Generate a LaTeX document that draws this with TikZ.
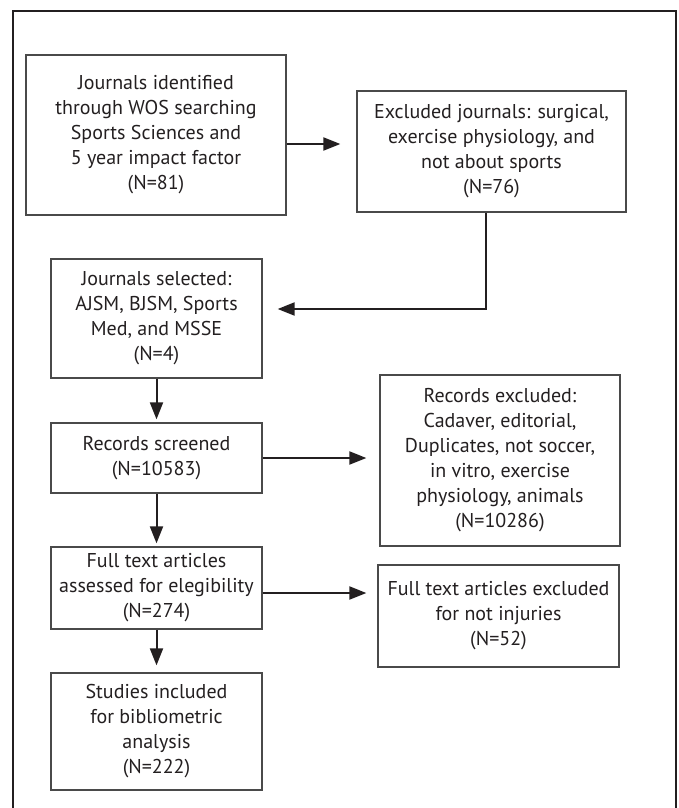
\documentclass[tikz,border=0pt]{standalone}
\usepackage{fontspec}
\setmainfont{PT Sans}
\usetikzlibrary{arrows.meta,positioning,calc}
\definecolor{ink}{HTML}{231F20}
\definecolor{boxline}{HTML}{4A4A4A}
\begin{document}
\begin{tikzpicture}[x=1pt,y=-1pt,
  flowbox/.style={draw=boxline,line width=1.3pt,rectangle,align=center,inner sep=0pt,
    font=\fontsize{20}{25}\selectfont,text=ink},
  flowarrow/.style={draw=ink,line width=2pt,-{Triangle[length=17pt,width=13pt]}},
]
\useasboundingbox (0,0) rectangle (678,808);
\draw[ink,line width=2.6pt] (13,812) -- (13,11) -- (676,11) -- (676,812);

\node[flowbox,minimum width=260pt,minimum height=160pt] (b1) at (156,135)
  {Journals identified\\through WOS searching\\Sports Sciences and\\5 year impact factor\\(N=81)};
\node[flowbox,minimum width=269pt,minimum height=121pt] (b2) at (491.5,151.5)
  {Excluded journals: surgical,\\exercise physiology, and\\not about sports\\(N=76)};
\node[flowbox,minimum width=211pt,minimum height=119pt] (b3) at (156.5,318.5)
  {Journals selected:\\AJSM, BJSM, Sports\\Med, and MSSE\\(N=4)};
\node[flowbox,minimum width=211pt,minimum height=70pt] (b4) at (156.5,458)
  {Records screened\\(N=10583)};
\node[flowbox,minimum width=240pt,minimum height=171pt] (b5) at (500,460.5)
  {Records excluded:\\Cadaver, editorial,\\Duplicates, not soccer,\\in vitro, exercise\\physiology, animals\\(N=10286)};
\node[flowbox,minimum width=211pt,minimum height=82pt] (b6) at (156.5,588)
  {Full text articles\\assessed for elegibility\\(N=274)};
\node[flowbox,minimum width=241pt,minimum height=102pt] (b7) at (498.5,616)
  {Full text articles excluded\\for not injuries\\(N=52)};
\node[flowbox,minimum width=211pt,minimum height=117pt] (b8) at (156.5,731.5)
  {Studies included\\for bibliometric\\analysis\\(N=222)};

\coordinate (a1) at (0,144);
\coordinate (turn) at (486,309);
\draw[flowarrow,shorten >=16pt] (b1.east |- a1) -- (b2.west |- a1);
\draw[flowarrow,shorten >=15pt] (b2.south -| turn) -- (turn) -- (b3.east |- turn);
\draw[flowarrow,shorten >=3pt] (b3) -- (b4);
\draw[flowarrow,shorten >=13pt] (b4) -- (b5.west |- b4);
\draw[flowarrow,shorten >=3pt] (b4) -- (b6);
\coordinate (a6) at (0,593);
\draw[flowarrow,shorten >=11pt] (b6.east |- a6) -- (b7.west |- a6);
\draw[flowarrow,shorten >=7pt] (b6) -- (b8);
\end{tikzpicture}
\end{document}
